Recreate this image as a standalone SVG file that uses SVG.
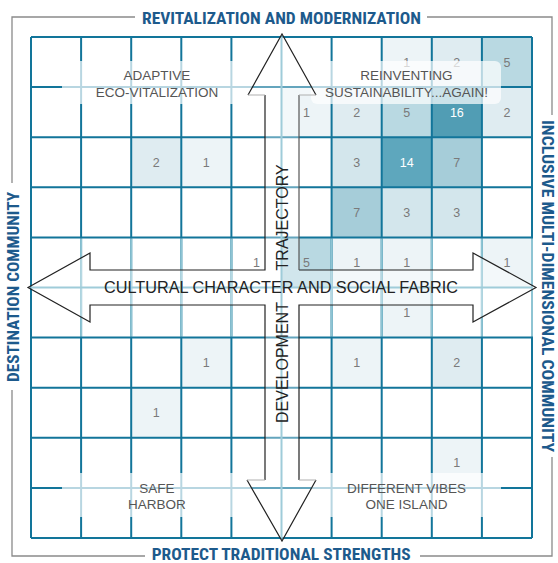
<svg xmlns="http://www.w3.org/2000/svg" width="558" height="563" viewBox="0 0 558 563">
<style>
.c1{fill:#edf4f7}.c2{fill:#dfecf1}.c3{fill:#d3e6ec}.c5{fill:#b9d9e2}.c7{fill:#a6cdd9}.c14{fill:#5ea7bd}.c16{fill:#519db4}
.num{font-family:"Liberation Sans",Arial,sans-serif;font-size:12.5px;fill:#7a7a7a;text-anchor:middle}
.numw{fill:#ffffff}
.lbl{font-family:"Liberation Sans",Arial,sans-serif;font-size:13.5px;fill:#555555;text-anchor:middle}
.axis{font-family:"Liberation Sans",Arial,sans-serif;font-size:16px;fill:#222222}
.title{font-family:"Liberation Sans Narrow","Roboto Condensed","DejaVu Sans Condensed",sans-serif;font-weight:bold;font-size:17px;fill:#1d5a8c}
.edge{font-size:16px}
.brk{fill:none;stroke:#8a8a8a;stroke-width:1.3}
.box{fill:#ffffff;fill-opacity:0.7}
.dk{fill:none;stroke:#222222;stroke-width:1.2}
.lt{fill:none;stroke:#b0b0b0;stroke-width:1.2}
</style>
<rect width="558" height="563" fill="#ffffff"/>
<g id="cells">
<g id="cell-0-7"><rect class="c1" x="381.7" y="37" width="50.1" height="50.1"/><text class="num" x="406.75" y="66.5">1</text></g>
<g id="cell-0-8"><rect class="c2" x="431.8" y="37" width="50.1" height="50.1"/><text class="num" x="456.85" y="66.5">2</text></g>
<g id="cell-0-9"><rect class="c5" x="481.9" y="37" width="50.1" height="50.1"/><text class="num" x="506.95" y="66.5">5</text></g>
<g id="cell-1-5"><rect class="c1" x="281.5" y="87.1" width="50.1" height="50.1"/><text class="num" x="306.55" y="116.6">1</text></g>
<g id="cell-1-6"><rect class="c2" x="331.6" y="87.1" width="50.1" height="50.1"/><text class="num" x="356.65" y="116.6">2</text></g>
<g id="cell-1-7"><rect class="c5" x="381.7" y="87.1" width="50.1" height="50.1"/><text class="num" x="406.75" y="116.6">5</text></g>
<g id="cell-1-8"><rect class="c16" x="431.8" y="87.1" width="50.1" height="50.1"/><text class="num numw" x="456.85" y="116.6">16</text></g>
<g id="cell-1-9"><rect class="c2" x="481.9" y="87.1" width="50.1" height="50.1"/><text class="num" x="506.95" y="116.6">2</text></g>
<g id="cell-2-2"><rect class="c2" x="131.2" y="137.2" width="50.1" height="50.1"/><text class="num" x="156.25" y="166.7">2</text></g>
<g id="cell-2-3"><rect class="c1" x="181.3" y="137.2" width="50.1" height="50.1"/><text class="num" x="206.35" y="166.7">1</text></g>
<g id="cell-2-6"><rect class="c3" x="331.6" y="137.2" width="50.1" height="50.1"/><text class="num" x="356.65" y="166.7">3</text></g>
<g id="cell-2-7"><rect class="c14" x="381.7" y="137.2" width="50.1" height="50.1"/><text class="num numw" x="406.75" y="166.7">14</text></g>
<g id="cell-2-8"><rect class="c7" x="431.8" y="137.2" width="50.1" height="50.1"/><text class="num" x="456.85" y="166.7">7</text></g>
<g id="cell-3-6"><rect class="c7" x="331.6" y="187.3" width="50.1" height="50.1"/><text class="num" x="356.65" y="216.8">7</text></g>
<g id="cell-3-7"><rect class="c3" x="381.7" y="187.3" width="50.1" height="50.1"/><text class="num" x="406.75" y="216.8">3</text></g>
<g id="cell-3-8"><rect class="c3" x="431.8" y="187.3" width="50.1" height="50.1"/><text class="num" x="456.85" y="216.8">3</text></g>
<g id="cell-4-4"><text class="num" x="256.45" y="266.9">1</text></g>
<g id="cell-4-5"><rect class="c5" x="281.5" y="237.4" width="50.1" height="50.1"/><text class="num" x="306.55" y="266.9">5</text></g>
<g id="cell-4-6"><rect class="c1" x="331.6" y="237.4" width="50.1" height="50.1"/><text class="num" x="356.65" y="266.9">1</text></g>
<g id="cell-4-7"><rect class="c1" x="381.7" y="237.4" width="50.1" height="50.1"/><text class="num" x="406.75" y="266.9">1</text></g>
<g id="cell-4-9"><rect class="c1" x="481.9" y="237.4" width="50.1" height="50.1"/><text class="num" x="506.95" y="266.9">1</text></g>
<g id="cell-5-7"><rect class="c1" x="381.7" y="287.5" width="50.1" height="50.1"/><text class="num" x="406.75" y="317">1</text></g>
<g id="cell-6-3"><rect class="c1" x="181.3" y="337.6" width="50.1" height="50.1"/><text class="num" x="206.35" y="367.1">1</text></g>
<g id="cell-6-6"><rect class="c1" x="331.6" y="337.6" width="50.1" height="50.1"/><text class="num" x="356.65" y="367.1">1</text></g>
<g id="cell-6-8"><rect class="c2" x="431.8" y="337.6" width="50.1" height="50.1"/><text class="num" x="456.85" y="367.1">2</text></g>
<g id="cell-7-2"><rect class="c1" x="131.2" y="387.7" width="50.1" height="50.1"/><text class="num" x="156.25" y="417.2">1</text></g>
<g id="cell-8-8"><rect class="c1" x="431.8" y="437.8" width="50.1" height="50.1"/><text class="num" x="456.85" y="467.3">1</text></g>
</g>
<g id="grid">
<path fill="none" stroke="#12759a" stroke-width="2" d="M31,37V538M81.1,37V538M131.2,37V538M181.3,37V538M231.4,37V538M331.6,37V538M381.7,37V538M431.8,37V538M481.9,37V538M532,37V538M31,37H532M31,87.1H532M31,137.2H532M31,187.3H532M31,237.4H532M31,337.6H532M31,387.7H532M31,437.8H532M31,487.9H532M31,538H532"/>
<path fill="none" stroke="#8ec4d3" stroke-width="2" d="M81.1,238.4V336.6M131.2,238.4V336.6M181.3,238.4V336.6M231.4,238.4V336.6M331.6,238.4V336.6M381.7,238.4V336.6M431.8,238.4V336.6M481.9,238.4V336.6M532,238.4V336.6"/>
<path fill="none" stroke="#6cb1c5" stroke-width="2" d="M281.5,37V538M31,287.5H532"/>
</g>
<g id="label-boxes">
<rect class="box" x="62" y="61" width="190" height="43"/>
<rect class="box" x="311" y="61" width="190" height="43" rx="6"/>
<rect class="box" x="62" y="473" width="190" height="44"/>
<rect class="box" x="311" y="473" width="190" height="44"/>
</g>
<g id="connectors">
<polygon fill="#ffffff" fill-opacity="0.35" stroke="none" points="282,34 316,95 299,95 299,270 473,270 473,253 536,287.5 473,322 473,305 299,305 299,480 316,480 282,541 247,480 265,480 265,305 90,305 90,322 28,287.5 90,253 90,270 265,270 265,95 248,95"/>
<path class="dk" d="M248,95L282,34L316,95M265,95V270H90V253L28,287.5L90,322V305H265V480M299,480V305H473V322L536,287.5L473,253V270H299M247,480L282,541L316,480"/>
<path fill="none" stroke="#555555" stroke-width="1.2" d="M299,95V270"/>
<path class="lt" d="M248,95H265M299,95H316M247,480H265M299,480H316"/>
</g>
<g id="quadrant-labels">
<g id="q-adaptive"><text class="lbl" x="157" y="80">ADAPTIVE</text><text class="lbl" x="157" y="97">ECO-VITALIZATION</text></g>
<g id="q-reinventing"><text class="lbl" x="406.5" y="80">REINVENTING</text><text class="lbl" x="406.5" y="97">SUSTAINABILITY...AGAIN!</text></g>
<g id="q-safe"><text class="lbl" x="157" y="492.5">SAFE</text><text class="lbl" x="157" y="508.5">HARBOR</text></g>
<g id="q-vibes"><text class="lbl" x="406.5" y="492.5">DIFFERENT VIBES</text><text class="lbl" x="406.5" y="508.5">ONE ISLAND</text></g>
</g>
<g id="axis-labels">
<text class="axis" x="104" y="293.3" textLength="354" lengthAdjust="spacingAndGlyphs">CULTURAL CHARACTER AND SOCIAL FABRIC</text>
<text class="axis" transform="translate(287.5,423) rotate(-90)" word-spacing="27.8">DEVELOPMENT TRAJECTORY</text>
</g>
<g id="frame">
<path class="brk" d="M12,183V17H135M12,390V556H145M427,17H552V115M552,457V556H420"/>
<text class="title" x="142" y="23.5" textLength="279" lengthAdjust="spacingAndGlyphs">REVITALIZATION AND MODERNIZATION</text>
<text class="title edge" x="151.7" y="559.5" textLength="259" lengthAdjust="spacingAndGlyphs">PROTECT TRADITIONAL STRENGTHS</text>
<text class="title" transform="translate(18.5,382) rotate(-90)" textLength="190" lengthAdjust="spacingAndGlyphs">DESTINATION COMMUNITY</text>
<text class="title edge" transform="translate(541.5,120) rotate(90)" textLength="332" lengthAdjust="spacingAndGlyphs">INCLUSIVE MULTI-DIMENSIONAL COMMUNITY</text>
</g>
</svg>
